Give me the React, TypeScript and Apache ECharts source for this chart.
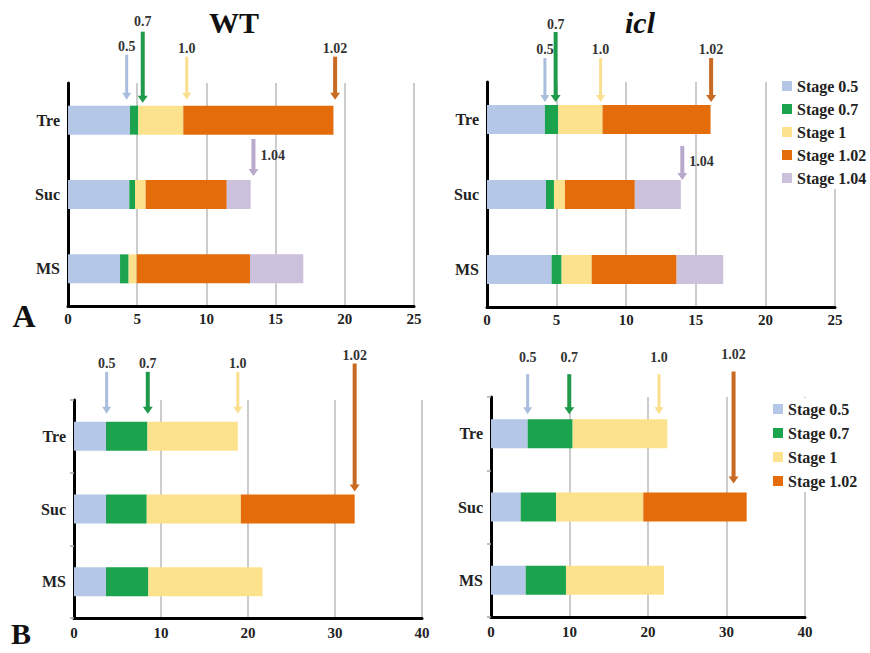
import React, { useEffect, useRef } from "react";
import * as echarts from "echarts";

// ---------- data ----------
const categories = ["Tre", "Suc", "MS"];
const stageNames = ["Stage 0.5", "Stage 0.7", "Stage 1", "Stage 1.02", "Stage 1.04"];

// Panel A – WT (duration of each stage, days)
const aWT_s05 = [4.48, 4.43, 3.76];
const aWT_s07 = [0.6, 0.41, 0.62];
const aWT_s1 = [3.25, 0.77, 0.58];
const aWT_s102 = [10.85, 5.86, 8.19];
const aWT_s104 = [null, 1.73, 3.85];

// Panel A – icl
const aIcl_s05 = [4.16, 4.24, 4.64];
const aIcl_s07 = [0.96, 0.57, 0.72];
const aIcl_s1 = [3.18, 0.79, 2.16];
const aIcl_s102 = [7.76, 5.02, 6.1];
const aIcl_s104 = [null, 3.31, 3.35];

// Panel B – WT
const bWT_s05 = [3.68, 3.68, 3.68];
const bWT_s07 = [4.76, 4.68, 4.87];
const bWT_s1 = [10.39, 10.82, 13.12];
const bWT_s102 = [null, 13.08, null];

// Panel B – icl
const bIcl_s05 = [4.67, 3.78, 4.42];
const bIcl_s07 = [5.73, 4.5, 5.13];
const bIcl_s1 = [12.06, 11.12, 12.49];
const bIcl_s102 = [null, 13.17, null];

// Arrow markers (stage label, x value, row)
const aWT_arrowLabels = ["0.5", "0.7", "1.0", "1.02", "1.04"];
const aWT_arrowX = [4.24, 5.4, 8.58, 19.3, 13.4];
const aWT_arrowRows = ["Tre", "Tre", "Tre", "Tre", "Suc"];

const aIcl_arrowLabels = ["0.5", "0.7", "1.0", "1.02", "1.04"];
const aIcl_arrowX = [4.16, 4.93, 8.16, 16.1, 14.03];
const aIcl_arrowRows = ["Tre", "Tre", "Tre", "Tre", "Suc"];

const bWT_arrowLabels = ["0.5", "0.7", "1.0", "1.02"];
const bWT_arrowX = [3.75, 8.48, 18.83, 32.26];
const bWT_arrowRows = ["Tre", "Tre", "Tre", "Suc"];

const bIcl_arrowLabels = ["0.5", "0.7", "1.0", "1.02"];
const bIcl_arrowX = [4.67, 9.97, 21.4, 30.9];
const bIcl_arrowRows = ["Tre", "Tre", "Tre", "Suc"];

const aTicks = ["0", "5", "10", "15", "20", "25"];
const bTicks = ["0", "10", "20", "30", "40"];

// ---------- styles ----------
const FONT = '"Liberation Serif", "Times New Roman", serif';
const stageColors = ["#b4c7e7", "#1ca34d", "#fde28e", "#e46c0a", "#ccc1dc"];
const arrowColors: Record<string, string> = {
  "0.5": "#a9bedc",
  "0.7": "#1e9a4a",
  "1.0": "#f9df8e",
  "1.02": "#c96a22",
  "1.04": "#b9aacb",
};
const arrowWidths: Record<string, number> = { "0.5": 3, "0.7": 4, "1.0": 3, "1.02": 4, "1.04": 4 };
const BAR_W = 29;

// geometry of arrows: rise above bar top, gap to bar top, label offset above start
const arrowGeom: Record<string, { rise: number; gap: number; ldy: number; side?: string }[]> = {
  aWT: [
    { rise: 51, gap: 6, ldy: 8 },
    { rise: 74, gap: 3, ldy: 10 },
    { rise: 49, gap: 6, ldy: 8 },
    { rise: 49, gap: 6, ldy: 8 },
    { rise: 41, gap: 4, ldy: 0, side: "right" },
  ],
  aIcl: [
    { rise: 47, gap: 3, ldy: 9 },
    { rise: 73, gap: 3, ldy: 8 },
    { rise: 47, gap: 3, ldy: 9 },
    { rise: 47, gap: 3, ldy: 9 },
    { rise: 34, gap: 0, ldy: 0, side: "right" },
  ],
  bWT: [
    { rise: 50, gap: 8, ldy: 8 },
    { rise: 50, gap: 8, ldy: 8 },
    { rise: 50, gap: 8, ldy: 8 },
    { rise: 131, gap: 3, ldy: 8 },
  ],
  bIcl: [
    { rise: 45, gap: 5, ldy: 17 },
    { rise: 45, gap: 5, ldy: 17 },
    { rise: 45, gap: 5, ldy: 17 },
    { rise: 121, gap: 9, ldy: 17 },
  ],
};

const panels = [
  {
    key: "aWT",
    grid: { left: 68, top: 83, width: 346, height: 223 },
    max: 25,
    interval: 5,
    ticks: aTicks,
    series: [aWT_s05, aWT_s07, aWT_s1, aWT_s102, aWT_s104],
    arrows: { labels: aWT_arrowLabels, x: aWT_arrowX, rows: aWT_arrowRows },
    catTicks: false,
    tickMargin: 5,
  },
  {
    key: "aIcl",
    grid: { left: 487, top: 82, width: 348, height: 225 },
    max: 25,
    interval: 5,
    ticks: aTicks,
    series: [aIcl_s05, aIcl_s07, aIcl_s1, aIcl_s102, aIcl_s104],
    arrows: { labels: aIcl_arrowLabels, x: aIcl_arrowX, rows: aIcl_arrowRows },
    catTicks: false,
    tickMargin: 5,
  },
  {
    key: "bWT",
    grid: { left: 74, top: 400, width: 348, height: 218 },
    max: 40,
    interval: 10,
    ticks: bTicks,
    series: [bWT_s05, bWT_s07, bWT_s1, bWT_s102],
    arrows: { labels: bWT_arrowLabels, x: bWT_arrowX, rows: bWT_arrowRows },
    catTicks: true,
    tickMargin: 7,
  },
  {
    key: "bIcl",
    grid: { left: 491, top: 397, width: 314, height: 220 },
    max: 40,
    interval: 10,
    ticks: bTicks,
    series: [bIcl_s05, bIcl_s07, bIcl_s1, bIcl_s102],
    arrows: { labels: bIcl_arrowLabels, x: bIcl_arrowX, rows: bIcl_arrowRows },
    catTicks: true,
    tickMargin: 7,
  },
];

function buildOption() {
  const grids: any[] = [];
  const xAxes: any[] = [];
  const yAxes: any[] = [];
  const series: any[] = [];

  panels.forEach((p, i) => {
    grids.push({ ...p.grid, containLabel: false });
    xAxes.push({
      type: "value",
      gridIndex: i,
      min: 0,
      max: p.max,
      interval: p.interval,
      axisLine: { show: true, onZero: false, lineStyle: { color: "#000", width: 3 } },
      axisTick: { show: false },
      splitLine: { show: true, lineStyle: { color: "#cccccc", width: 2 } },
      axisLabel: {
        margin: p.tickMargin,
        fontFamily: FONT,
        fontWeight: "bold",
        fontSize: 15,
        color: "#222",
        formatter: (v: number) => {
          const idx = Math.round(v / p.interval);
          return p.ticks[idx] ?? String(v);
        },
      },
    });
    yAxes.push({
      type: "category",
      gridIndex: i,
      data: categories,
      inverse: true,
      axisLine: { show: true, lineStyle: { color: "#000", width: 3 } },
      axisTick: { show: p.catTicks, length: 4, lineStyle: { color: "#aaa", width: 1.5 } },
      splitLine: { show: false },
      axisLabel: {
        margin: 8,
        fontFamily: FONT,
        fontWeight: "bold",
        fontSize: 16,
        color: "#222",
      },
    });

    p.series.forEach((vals, s) => {
      series.push({
        type: "bar",
        name: stageNames[s],
        xAxisIndex: i,
        yAxisIndex: i,
        stack: p.key,
        barWidth: BAR_W,
        data: vals,
        itemStyle: { color: stageColors[s] },
        z: 2,
      });
    });

    const geom = arrowGeom[p.key];
    series.push({
      type: "custom",
      name: p.key + "-arrows",
      xAxisIndex: i,
      yAxisIndex: i,
      silent: true,
      z: 5,
      data: p.arrows.x.map((x, k) => [x, categories.indexOf(p.arrows.rows[k]), k]),
      renderItem: (params: any, api: any) => {
        const k = api.value(2);
        const label = p.arrows.labels[k];
        const g = geom[k];
        const pt = api.coord([api.value(0), api.value(1)]);
        const x = pt[0];
        const barTop = pt[1] - BAR_W / 2;
        const y1 = barTop - g.rise;
        const y2 = barTop - g.gap;
        const color = arrowColors[label];
        const w = arrowWidths[label];
        const headH = 7;
        const headW = w / 2 + 3;
        const right = g.side === "right";
        return {
          type: "group",
          children: [
            {
              type: "line",
              shape: { x1: x, y1: y1, x2: x, y2: y2 - headH + 1 },
              style: { stroke: color, lineWidth: w },
            },
            {
              type: "polygon",
              shape: { points: [[x - headW, y2 - headH], [x + headW, y2 - headH], [x, y2]] },
              style: { fill: color },
            },
            {
              type: "text",
              x: right ? x + 7 : x,
              y: right ? (y1 + y2) / 2 - 2 : y1 - g.ldy,
              style: {
                text: label,
                font: `bold 14px ${FONT}`,
                fill: "#333",
                align: right ? "left" : "center",
                verticalAlign: "middle",
                textAlign: right ? "left" : "center",
                textVerticalAlign: "middle",
              },
            },
          ],
        };
      },
    });
  });

  const legendText = { fontFamily: FONT, fontWeight: "bold", fontSize: 16, color: "#222", lineHeight: 18 };

  return {
    animation: false,
    backgroundColor: "#fff",
    grid: grids,
    xAxis: xAxes,
    yAxis: yAxes,
    series,
    legend: [
      {
        data: stageNames,
        orient: "vertical",
        left: 780,
        top: 75,
        itemWidth: 10,
        itemHeight: 10,
        itemGap: 5,
        padding: 2,
        icon: "rect",
        backgroundColor: "#fff",
        textStyle: legendText,
        selectedMode: false,
      },
      {
        data: stageNames.slice(0, 4),
        orient: "vertical",
        left: 771,
        top: 398,
        itemWidth: 10,
        itemHeight: 10,
        itemGap: 6,
        padding: 2,
        icon: "rect",
        backgroundColor: "#fff",
        textStyle: legendText,
        selectedMode: false,
      },
    ],
    graphic: [
      {
        type: "text",
        x: 234,
        y: 22,
        style: {
          text: "WT",
          font: `bold 30px ${FONT}`,
          fill: "#111",
          align: "center",
          verticalAlign: "middle",
          textAlign: "center",
          textVerticalAlign: "middle",
        },
      },
      {
        type: "text",
        x: 640,
        y: 22,
        style: {
          text: "icl",
          font: `italic bold 30px ${FONT}`,
          fill: "#111",
          align: "center",
          verticalAlign: "middle",
          textAlign: "center",
          textVerticalAlign: "middle",
        },
      },
      {
        type: "text",
        x: 24,
        y: 316,
        style: {
          text: "A",
          font: `bold 32px ${FONT}`,
          fill: "#111",
          align: "center",
          verticalAlign: "middle",
          textAlign: "center",
          textVerticalAlign: "middle",
        },
      },
      {
        type: "text",
        x: 21,
        y: 633,
        style: {
          text: "B",
          font: `bold 30px ${FONT}`,
          fill: "#111",
          align: "center",
          verticalAlign: "middle",
          textAlign: "center",
          textVerticalAlign: "middle",
        },
      },
    ],
  };
}

export default function App() {
  const ref = useRef<HTMLDivElement>(null);
  useEffect(() => {
    if (!ref.current) return;
    const chart = echarts.init(ref.current, undefined, { renderer: "svg" });
    chart.setOption(buildOption() as any);
    return () => chart.dispose();
  }, []);
  return <div ref={ref} style={{ width: 870, height: 653, position: "absolute", left: 0, top: 0 }} />;
}
